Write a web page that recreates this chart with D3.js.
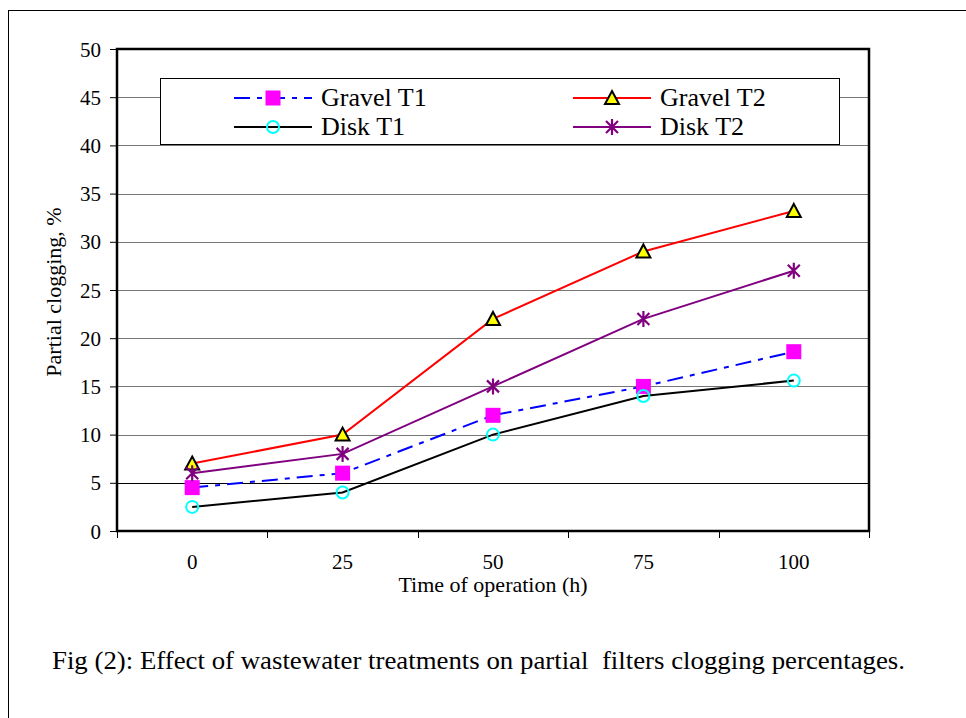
<!DOCTYPE html>
<html>
<head>
<meta charset="utf-8">
<script src="https://cdn.jsdelivr.net/npm/d3@7"></script>
<style>
  body { margin: 0; background: #fff; }
  svg text { font-family: "Liberation Serif", "DejaVu Serif", serif; fill: #000; }
</style>
</head>
<body>
<div id="chart"></div>
<script>
var width = 966, height = 718;

// data
var hours = ["0", "25", "50", "75", "100"];
var yTicks = [0, 5, 10, 15, 20, 25, 30, 35, 40, 45, 50];
var gravelT1 = [4.5, 6, 12, 15, 18.6];
var gravelT2 = [7, 10, 22, 29, 33.2];
var diskT1 = [2.5, 4, 10, 14, 15.6];
var diskT2 = [6, 8, 15, 22, 27];

var series = [
  { name: "Gravel T1", values: gravelT1, color: "#0000ff", dash: "16,7,5,7", marker: "square" },
  { name: "Gravel T2", values: gravelT2, color: "#ff0000", dash: null, marker: "triangle" },
  { name: "Disk T1", values: diskT1, color: "#000000", dash: null, marker: "circle" },
  { name: "Disk T2", values: diskT2, color: "#800080", dash: null, marker: "star" }
];

var plot = { left: 117, top: 49, right: 869, bottom: 531 };

var svg = d3.select('#chart')
  .append('svg')
  .attr('width', width)
  .attr('height', height);

// outer frame (runs off the right / bottom edge)
svg.append('rect')
  .attr('x', 8.5).attr('y', 10.5)
  .attr('width', 1100).attr('height', 900)
  .attr('fill', 'none').attr('stroke', '#000').attr('stroke-width', 1);

var x = d3.scaleBand()
  .domain(hours)
  .range([plot.left, plot.right]);

var y = d3.scaleLinear()
  .domain([0, 50])
  .range([plot.bottom, plot.top]);

// gridlines
svg.append('g').selectAll('line')
  .data(yTicks.slice(1, -1))
  .enter().append('line')
  .attr('x1', plot.left).attr('x2', plot.right)
  .attr('y1', function(d) { return Math.round(y(d)) + 0.5; })
  .attr('y2', function(d) { return Math.round(y(d)) + 0.5; })
  .attr('stroke', function(d) { return d == 5 ? '#000' : '#777'; })
  .attr('stroke-width', 1);

// y axis
var yAxis = d3.axisLeft(y)
  .tickValues(yTicks)
  .tickSize(7)
  .tickPadding(9);

var gy = svg.append('g')
  .attr('transform', 'translate(' + plot.left + ',0)')
  .call(yAxis);
gy.select('.domain').remove();
gy.selectAll('text')
  .style('font-size', '21px')
  .attr('dy', '0.34em');
gy.selectAll('line').attr('stroke', '#000');

// x axis: ticks on band edges, labels at band centres
var edges = hours.map(function(h) { return x(h); }).concat([x(hours[hours.length - 1]) + x.bandwidth()]);
svg.append('g').selectAll('line')
  .data(edges)
  .enter().append('line')
  .attr('x1', function(d) { return Math.round(d) + 0.5; })
  .attr('x2', function(d) { return Math.round(d) + 0.5; })
  .attr('y1', plot.bottom).attr('y2', plot.bottom + 7)
  .attr('stroke', '#000');

svg.append('g').selectAll('text')
  .data(hours)
  .enter().append('text')
  .attr('x', function(d) { return x(d) + x.bandwidth() / 2; })
  .attr('y', 569)
  .attr('text-anchor', 'middle')
  .style('font-size', '21px')
  .text(function(d) { return d; });

// plot border
svg.append('rect')
  .attr('x', plot.left).attr('y', plot.top)
  .attr('width', plot.right - plot.left)
  .attr('height', plot.bottom - plot.top)
  .attr('fill', 'none').attr('stroke', '#000').attr('stroke-width', 2.5);

// axis titles
svg.append('text')
  .attr('x', 493).attr('y', 592)
  .attr('text-anchor', 'middle')
  .style('font-size', '22px')
  .text('Time of operation (h)');

svg.append('text')
  .attr('transform', 'translate(61,292)rotate(-90)')
  .attr('text-anchor', 'middle')
  .style('font-size', '22px')
  .text('Partial clogging, %');

// marker drawing
function drawMarker(g, type, color) {
  if (type == "square") {
    g.append('rect').attr('x', -7.5).attr('y', -7.5).attr('width', 15).attr('height', 15)
      .attr('fill', '#ff00ff');
  } else if (type == "triangle") {
    g.append('path').attr('d', 'M0,-7L7,6L-7,6Z')
      .attr('fill', '#ffff00').attr('stroke', '#000').attr('stroke-width', 2);
  } else if (type == "circle") {
    g.append('circle').attr('r', 6)
      .attr('fill', 'none').attr('stroke', '#00ffff').attr('stroke-width', 2);
  } else if (type == "star") {
    g.append('path').attr('d', 'M0,-8V8M-6,-6L6,6M-6,6L6,-6')
      .attr('stroke', color).attr('stroke-width', 2.2).attr('fill', 'none');
  }
}

var line = d3.line()
  .x(function(d, i) { return x(hours[i]) + x.bandwidth() / 2; })
  .y(function(d) { return y(d); });

series.forEach(function(s) {
  svg.append('path')
    .datum(s.values)
    .attr('d', line)
    .attr('fill', 'none')
    .attr('stroke', s.color)
    .attr('stroke-width', 2)
    .attr('stroke-dasharray', s.dash);
});

series.forEach(function(s) {
  s.values.forEach(function(v, i) {
    var g = svg.append('g')
      .attr('transform', 'translate(' + (x(hours[i]) + x.bandwidth() / 2) + ',' + y(v) + ')');
    drawMarker(g, s.marker, s.color);
  });
});

// legend
var legend = svg.append('g');
legend.append('rect')
  .attr('x', 160.5).attr('y', 78.5)
  .attr('width', 679).attr('height', 66)
  .attr('fill', '#fff').attr('stroke', '#000').attr('stroke-width', 1);

var legendPos = [
  { x: 234, y: 98 }, { x: 573, y: 98 },
  { x: 234, y: 127 }, { x: 573, y: 127 }
];

series.forEach(function(s, i) {
  var p = legendPos[i];
  var g = legend.append('g').attr('transform', 'translate(' + p.x + ',' + p.y + ')');
  g.append('line')
    .attr('x1', 0).attr('x2', 78).attr('y1', 0).attr('y2', 0)
    .attr('stroke', s.color).attr('stroke-width', 2)
    .attr('stroke-dasharray', s.dash);
  var m = g.append('g').attr('transform', 'translate(39,0)');
  drawMarker(m, s.marker, s.color);
  g.append('text')
    .attr('x', 87).attr('y', 8)
    .style('font-size', '26px')
    .text(s.name);
});

// caption
svg.append('text')
  .attr('x', 52).attr('y', 669)
  .attr('xml:space', 'preserve')
  .attr('textLength', 853)
  .attr('lengthAdjust', 'spacingAndGlyphs')
  .style('white-space', 'pre')
  .style('font-size', '26px')
  .text('Fig (2): Effect of wastewater treatments on partial  filters clogging percentages.');
</script>
</body>
</html>
